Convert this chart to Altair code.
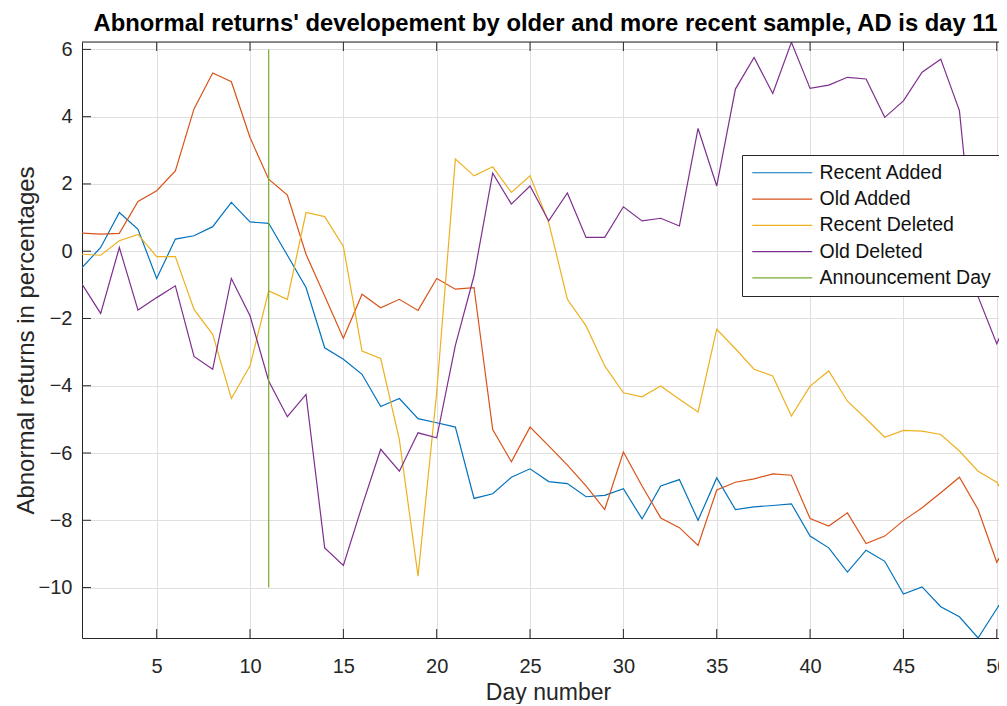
import altair as alt
import pandas as pd

# ---------------- data ----------------
days = list(range(1, 52))

recent_added = [-0.49, 0.11, 1.15, 0.65, -0.81, 0.36, 0.46, 0.73, 1.45, 0.87, 0.83, -0.12,
                -1.08, -2.87, -3.21, -3.66, -4.62, -4.38, -4.98, -5.10, -5.23, -7.35, -7.21, -6.72,
                -6.47, -6.85, -6.91, -7.30, -7.26, -7.06, -7.96, -6.98, -6.79, -8.00, -6.74, -7.68,
                -7.60, -7.56, -7.51, -8.47, -8.82, -9.54, -8.89, -9.22, -10.19, -9.98, -10.57, -10.87,
                -11.50, -10.63, -9.80]

old_added = [0.54, 0.51, 0.53, 1.48, 1.80, 2.39, 4.23, 5.30, 5.04, 3.38, 2.14, 1.67,
             -0.09, -1.33, -2.59, -1.28, -1.68, -1.43, -1.76, -0.81, -1.13, -1.08, -5.30, -6.26,
             -5.23, -5.79, -6.36, -6.98, -7.68, -5.97, -6.98, -7.93, -8.22, -8.75, -7.10, -6.87,
             -6.77, -6.62, -6.66, -7.95, -8.17, -7.78, -8.69, -8.47, -8.01, -7.63, -7.18, -6.72,
             -7.68, -9.25, -8.30]

recent_deleted = [-0.09, -0.12, 0.31, 0.50, -0.16, -0.16, -1.73, -2.47, -4.38, -3.41, -1.18, -1.43,
                  1.15, 1.03, 0.14, -2.97, -3.19, -5.60, -9.66, -4.20, 2.74, 2.24, 2.51, 1.75,
                  2.24, 0.85, -1.43, -2.22, -3.41, -4.21, -4.33, -4.01, -4.40, -4.78, -2.32, -2.90,
                  -3.51, -3.71, -4.90, -4.01, -3.56, -4.46, -4.98, -5.53, -5.33, -5.35, -5.45, -5.94,
                  -6.54, -6.87, -7.80]

old_deleted = [-0.98, -1.85, 0.11, -1.75, -1.38, -1.03, -3.13, -3.51, -0.81, -1.92, -3.86, -4.92,
               -4.26, -8.82, -9.34, -7.58, -5.89, -6.54, -5.40, -5.55, -2.80, -0.73, 2.32, 1.40,
               1.94, 0.90, 1.73, 0.41, 0.41, 1.32, 0.90, 0.98, 0.75, 3.65, 1.94, 4.82,
               5.76, 4.69, 6.21, 4.84, 4.94, 5.17, 5.12, 3.98, 4.47, 5.32, 5.71, 4.18,
               -1.35, -2.75, -1.50]

announcement_day = 11
announcement_span = [-10, 6]

series_names = ["Recent Added", "Old Added", "Recent Deleted", "Old Deleted", "Announcement Day"]
series_colors = ["#0072BD", "#D95319", "#EDB120", "#7E2F8E", "#77AC30"]

x_ticks = [5, 10, 15, 20, 25, 30, 35, 40, 45, 50]
y_ticks = [-10, -8, -6, -4, -2, 0, 2, 4, 6]

# ---------------- build table ----------------
rows = []
for name, vals in zip(series_names[:4], [recent_added, old_added, recent_deleted, old_deleted]):
    for i, (d, v) in enumerate(zip(days, vals)):
        rows.append({"day": d, "value": v, "series": name, "ord": i})
for i, v in enumerate(announcement_span):
    rows.append({"day": announcement_day, "value": v, "series": series_names[4], "ord": i})
df = pd.DataFrame(rows)

W, H = 917, 596
FONT = "Liberation Sans, Arial, Helvetica, sans-serif"
AX = "#262626"
GRID = "#dfdfdf"

xscale = alt.Scale(domain=[1, 50.12], nice=False, zero=False)
yscale = alt.Scale(domain=[-11.5, 6.22], nice=False, zero=False)

lines = alt.Chart(df).mark_line(clip=True, strokeWidth=1.2).encode(
    x=alt.X("day:Q", scale=xscale,
            axis=alt.Axis(values=x_ticks, format="d", grid=True, gridColor=GRID, gridWidth=1,
                          ticks=False, tickSize=0, domain=True, domainColor=AX, domainWidth=1,
                          labelFont=FONT, labelFontSize=20, labelColor=AX, labelPadding=18,
                          labelFlush=False, labelOverlap=False,
                          title="Day number", titleFont=FONT, titleFontSize=23,
                          titleFontWeight="normal", titleColor=AX,
                          titleX=466, titleY=61, titleAlign="center", titleBaseline="alphabetic")),
    y=alt.Y("value:Q", scale=yscale,
            axis=alt.Axis(values=y_ticks, format="d", grid=True, gridColor=GRID, gridWidth=1,
                          ticks=False, tickSize=0, domain=True, domainColor=AX, domainWidth=1,
                          labelFont=FONT, labelFontSize=20, labelColor=AX, labelPadding=10,
                          labelFlush=False, labelOverlap=False,
                          title="Abnormal returns in percentages", titleFont=FONT, titleFontSize=24,
                          titleFontWeight="normal", titleColor=AX,
                          titleX=-49, titleY=H / 2, titleAngle=270, titleAlign="center",
                          titleBaseline="alphabetic")),
    color=alt.Color("series:N",
                    scale=alt.Scale(domain=series_names, range=series_colors),
                    legend=alt.Legend(title=None, orient="none", legendX=660, legendY=113,
                                      symbolType="M-1,0H7", symbolSize=225, symbolStrokeWidth=1.2,
                                      labelFont=FONT, labelFontSize=19.5, labelColor="#111111",
                                      labelOffset=50, labelLimit=400, padding=8, rowPadding=5.3,
                                      strokeColor=AX, fillColor="white")),
    order="ord:Q",
)

xt = pd.DataFrame({"day": x_ticks})
yt = pd.DataFrame({"value": y_ticks})

tick_bottom = alt.Chart(xt).mark_rule(color=AX, strokeWidth=1).encode(
    x=alt.X("day:Q", scale=xscale), y=alt.value(H), y2=alt.value(H - 9))
tick_top = alt.Chart(xt).mark_rule(color=AX, strokeWidth=1).encode(
    x=alt.X("day:Q", scale=xscale), y=alt.value(0), y2=alt.value(9))
tick_left = alt.Chart(yt).mark_rule(color=AX, strokeWidth=1).encode(
    y=alt.Y("value:Q", scale=yscale), x=alt.value(0), x2=alt.value(9))
border_top = alt.Chart(xt.head(1)).mark_rule(color=AX, strokeWidth=1).encode(
    x=alt.value(0), x2=alt.value(W), y=alt.value(0))

chart = alt.layer(lines, tick_bottom, tick_top, tick_left, border_top).properties(
    width=W, height=H,
    padding={"left": 74, "top": 34, "right": 0, "bottom": 66},
    autosize=alt.AutoSizeParams(type="none"),
    title=alt.TitleParams(
        text="Abnormal returns' developement by older and more recent sample, AD is day 11",
        font=FONT, fontSize=23.8, fontWeight="bold", color="#000000",
        anchor="middle", dx=5, dy=26, offset=11, baseline="alphabetic"),
).configure_view(stroke=None).configure(background="white")

chart.save("out.html", embed_options={"renderer": "svg", "actions": False})
